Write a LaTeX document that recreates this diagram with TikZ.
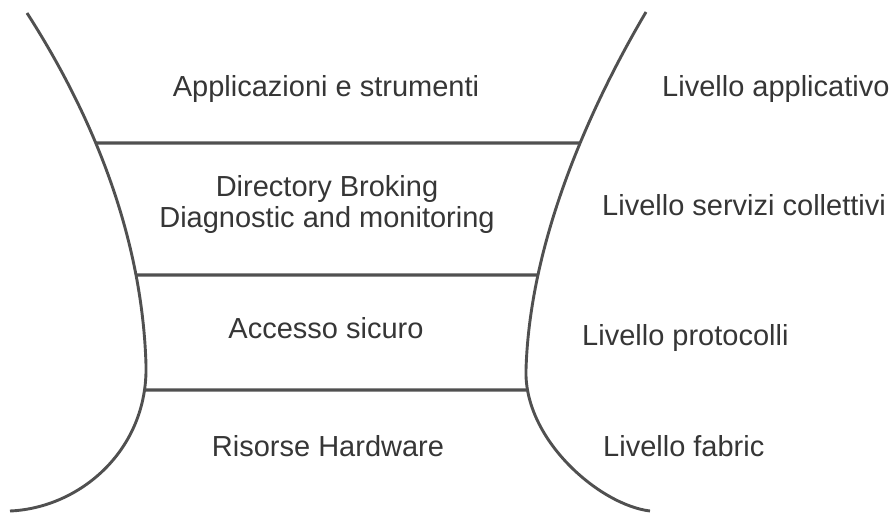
\documentclass[tikz,border=0pt]{standalone}
\usepackage{fontspec}
\setmainfont{Liberation Sans}
\usetikzlibrary{intersections}
\definecolor{rimgray}{HTML}{505050}
\definecolor{inkgray}{HTML}{363636}

\begin{document}
\begin{tikzpicture}[x=1pt,y=-1pt,
  rim/.style={draw=rimgray,line width=2.9pt},
  sep/.style={draw=rimgray,line width=3.1pt},
  layer/.style={font=\fontsize{29}{31}\selectfont,text=inkgray,inner sep=0pt,anchor=base},
  level/.style={layer,anchor=base west}]
\useasboundingbox (0,0) rectangle (891,513);

% the two sides of the cup
\path[rim,name path=leftside] (27,13) .. controls (88,108) and (142,230) .. (146,365)
  .. controls (148,450) and (80,508) .. (10,511);
\path[rim,name path=rightside] (646,12) .. controls (600,90) and (530,230) .. (526,370)
  .. controls (524,440) and (600,505) .. (650,511);

% where the separators meet the sides
\foreach \y/\n in {143/a,275/b,390/c}{
  \path[name path=cut\n] (0,\y) -- (891,\y);
  \path[name intersections={of=leftside and cut\n}] (intersection-1) coordinate (l\n);
  \path[name intersections={of=rightside and cut\n}] (intersection-1) coordinate (r\n);
}
\draw[sep] (la) -- (ra);
\draw[sep] (lb) -- (rb);
\draw[sep] (lc) -- (rc);

% layers
\node[layer] (app) at (326,97) {Applicazioni e strumenti};
\node[layer,align=center,anchor=center] (dir) at (327,205) {Directory Broking\\Diagnostic and monitoring};
\node[layer] (acc) at (326,338) {Accesso sicuro};
\node[layer] (ris) at (328,456.7) {Risorse Hardware};

% levels
\node[level] (liva) at (662,97) {Livello applicativo};
\node[level] (livb) at (602,215) {Livello servizi collettivi};
\node[level] (livc) at (582,345) {Livello protocolli};
\node[level] (livd) at (603,456.7) {Livello fabric};

\end{tikzpicture}
\end{document}
